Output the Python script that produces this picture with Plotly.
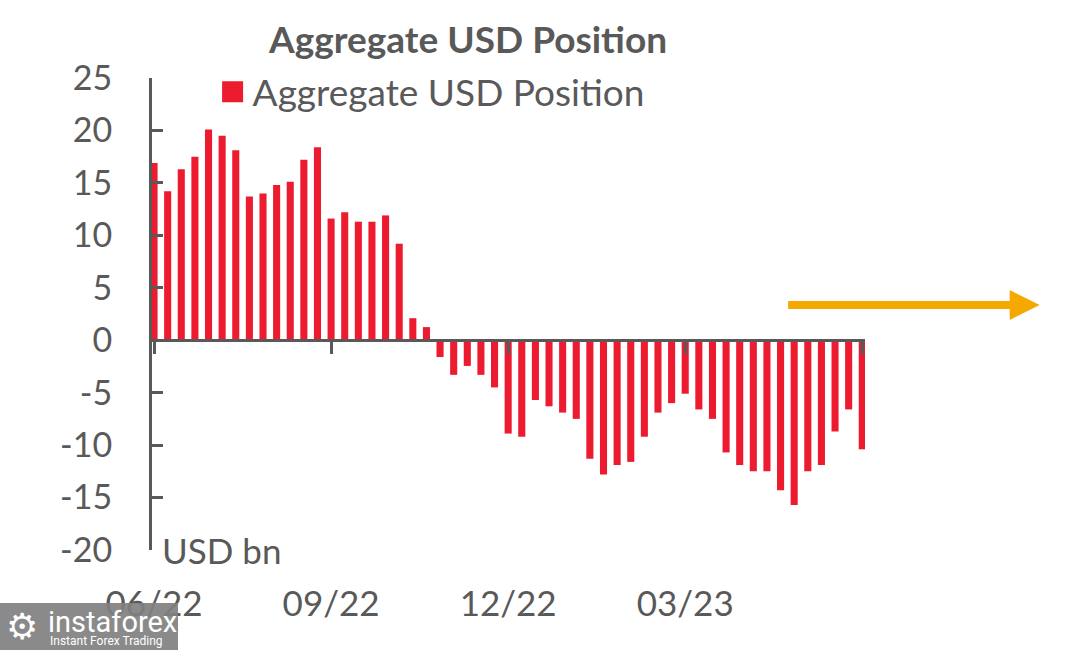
import plotly.graph_objects as go
import pandas as pd

# Weekly observations, June 2022 - June 2023
weeks = [d.strftime("%Y-%m-%d") for d in pd.date_range("2022-06-07", periods=53, freq="7D")]
usd_position = [
    16.9, 14.2, 16.3, 17.5, 20.1, 19.5, 18.1, 13.7, 14.0, 14.8,
    15.1, 17.2, 18.4, 11.6, 12.2, 11.3, 11.3, 11.9, 9.2, 2.1,
    1.25, -1.6, -3.3, -2.45, -3.3, -4.5, -8.9, -9.2, -5.7, -6.3,
    -6.9, -7.5, -11.3, -12.8, -11.9, -11.6, -9.2, -6.9, -6.0, -5.1,
    -6.6, -7.5, -10.7, -11.9, -12.5, -12.5, -14.3, -15.7, -12.5, -11.9,
    -8.7, -6.6, -10.4,
]
tick_weeks = [weeks[0], weeks[13], weeks[26], weeks[39], weeks[52]]
tick_labels = ["06/22", "09/22", "12/22", "03/23", ""]
y_ticks = [25, 20, 15, 10, 5, 0, -5, -10, -15, -20]
y_range = [-20, 25]

RED = "#ED1B2F"
GREY = "#595959"
FONT = "Lato"

fig = go.Figure()
fig.add_trace(go.Bar(
    x=weeks, y=usd_position, marker=dict(color=RED, line=dict(width=0)),
    width=0.52, name="Aggregate USD Position", showlegend=False,
    xaxis="x", yaxis="y",
))
# legend entry
fig.add_trace(go.Scatter(
    x=[None], y=[None], mode="markers", name="Aggregate USD Position",
    marker=dict(symbol="square", size=22, color=RED, line=dict(color=RED, width=5)),
    showlegend=True, xaxis="x2", yaxis="y",
))
# invisible carrier for bottom date labels axis
fig.add_trace(go.Scatter(
    x=weeks, y=usd_position, mode="markers", marker=dict(opacity=0),
    hoverinfo="skip", showlegend=False, xaxis="x2", yaxis="y",
))

zero_pos = (0 - y_range[0]) / (y_range[1] - y_range[0])

fig.update_layout(
    template="none",
    width=1076, height=650,
    margin=dict(l=152, r=211, t=78, b=100, autoexpand=False),
    paper_bgcolor="white", plot_bgcolor="white",
    font=dict(family=FONT, color=GREY, size=34),
    bargap=0.48,
    title=dict(text="<b>Aggregate USD Position</b>", x=0.435, xanchor="center",
               y=0.938, yanchor="middle", xref="container", yref="container",
               font=dict(family=FONT, size=37, color=GREY)),
    xaxis=dict(
        type="category", categoryorder="array", categoryarray=weeks,
        range=[-0.15, 52.2], anchor="free", position=zero_pos,
        showline=True, linecolor=GREY, linewidth=3, automargin=False,
        ticks="outside", ticklen=12, tickwidth=3, tickcolor=GREY,
        tickvals=tick_weeks, showticklabels=False, showgrid=False, zeroline=False,
    ),
    xaxis2=dict(
        type="category", categoryorder="array", categoryarray=weeks,
        overlaying="x", matches="x", anchor="y", side="bottom",
        showline=False, ticks="", tickvals=tick_weeks, ticktext=tick_labels,
        tickfont=dict(size=35, color=GREY), ticklabelstandoff=30, automargin=False,
        showgrid=False, zeroline=False,
    ),
    yaxis=dict(
        range=y_range, tickvals=y_ticks, ticktext=[str(v) for v in y_ticks],
        showline=True, linecolor=GREY, linewidth=3, automargin=False,
        ticks="inside", ticklen=11, tickwidth=3, tickcolor=GREY,
        tickfont=dict(size=34, color=GREY), ticklabelstandoff=30,
        showgrid=False, zeroline=False,
    ),
    legend=dict(x=0.085, y=0.97, xanchor="left", yanchor="middle",
                orientation="h", font=dict(size=37, color=GREY),
                bgcolor="rgba(0,0,0,0)", itemsizing="trace"),
    annotations=[
        dict(text="USD bn", xref="paper", yref="paper", x=0.011, y=0.0,
             xanchor="left", yanchor="middle", showarrow=False,
             font=dict(size=35, color=GREY)),
        dict(text="", xref="paper", yref="paper", x=1.245, y=0.519,
             ax=-253, ay=0, showarrow=True, arrowhead=2, arrowsize=0.75,
             arrowwidth=8, arrowcolor="#F5A800", standoff=0),
        dict(text="⚙", xref="paper", yref="paper", x=-0.207, y=-0.162,
             xanchor="left", yanchor="middle", showarrow=False,
             font=dict(family="DejaVu Sans", size=36, color="white")),
        dict(text="instaforex", xref="paper", yref="paper", x=-0.148, y=-0.152,
             xanchor="left", yanchor="middle", showarrow=False,
             font=dict(family="Roboto", size=29, color="white")),
        dict(text="Instant Forex Trading", xref="paper", yref="paper", x=-0.146, y=-0.193,
             xanchor="left", yanchor="middle", showarrow=False,
             font=dict(family="Roboto", size=12, color="white")),
    ],
    shapes=[
        dict(type="rect", xref="paper", yref="paper", x0=-0.2132, x1=0.0365,
             y0=-0.2119, y1=-0.1123, fillcolor="rgba(128,128,128,0.92)",
             line=dict(width=0), layer="above"),
    ],
)

fig.write_html("out.html", config={"displayModeBar": False},
               post_script="document.body.style.margin='0';document.body.style.overflow='hidden';")
